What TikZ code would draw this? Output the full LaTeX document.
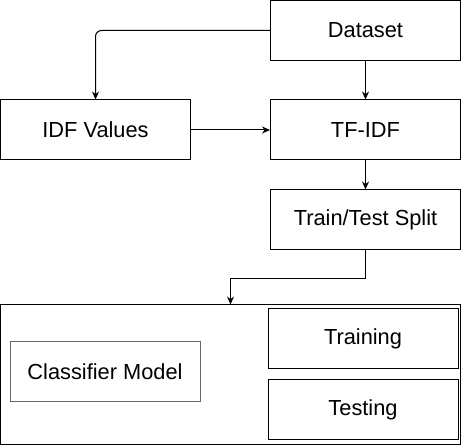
\documentclass[tikz,border=0pt]{standalone}
\usepackage{fontspec}
\setmainfont{Liberation Sans}
\usepackage{xcolor}
\usepackage{tikz}
\usetikzlibrary{arrows.meta}
\usetikzlibrary{positioning}

\begin{document}
\begin{tikzpicture}[
    x=1pt, y=-1pt,
    box/.style={rectangle, draw, line width=1pt, minimum width=190pt, minimum height=60pt, inner sep=0pt, font=\fontsize{21.8}{26}\selectfont},
    frame/.style={rectangle, draw, line width=1pt, minimum width=460pt, minimum height=140pt, inner sep=0pt},
    edge/.style={line width=1pt, -{Stealth[length=8pt, width=7pt]}},
    scale=1
]
\useasboundingbox (0,0) rectangle (461,446);

% Caja grande del modelo
\node[frame] (F) at (230.5,375) {};

% Pasos de preprocesado
\node[box] (D) at (365.5,30.5) {Dataset};
\node[box] (I) at (95.5,130) {IDF Values};
\node[box] (T) at (365.5,130) {TF-IDF};
\node[box] (S) at (365.5,220) {Train/Test Split};

% Dentro de la caja grande
\node[box, draw=black!60] (C) at (105,372) {Classifier Model};
\node[box] (R) at (363,339) {Training};
\node[box] (E) at (363,410) {Testing};

% Conexiones
\draw[edge, rounded corners=6pt] (D.west) -| (I.north);
\draw[edge] (D) -- (T);
\draw[edge] (I) -- (T);
\draw[edge] (T) -- (S);
\draw[edge] (S.south) -- ++(0,28) -| (F.north);

\end{tikzpicture}
\end{document}
